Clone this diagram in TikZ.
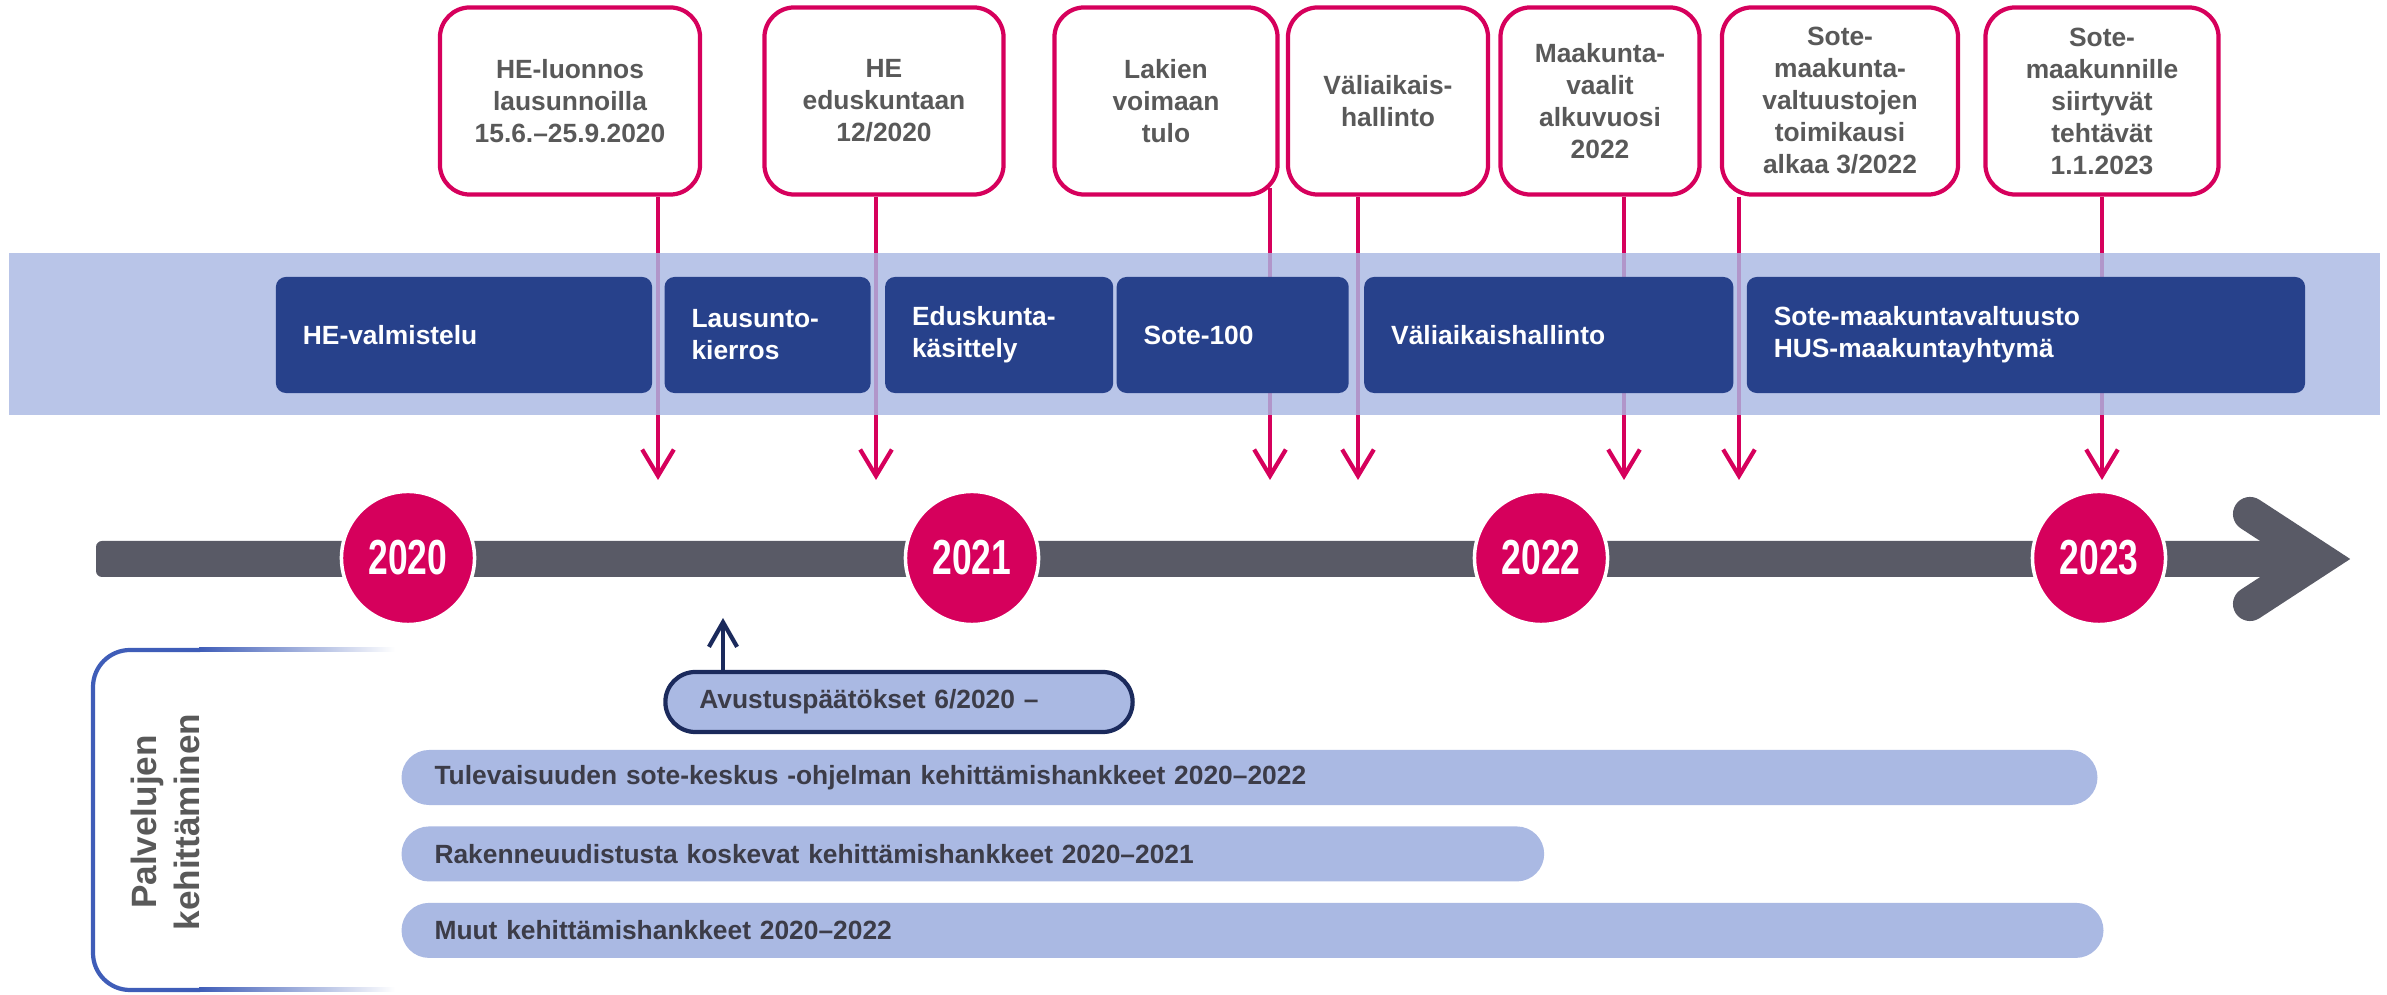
\documentclass[tikz,border=0pt]{standalone}
\usepackage{fontspec}
\setmainfont{Liberation Sans}
\newfontfamily\yearfont{Liberation Sans}[FakeStretch=0.72]
\usetikzlibrary{positioning,arrows.meta}

\definecolor{sotepink}{HTML}{D6005C}
\definecolor{phaseblue}{HTML}{27418B}
\definecolor{bandblue}{HTML}{AAB8E3}
\definecolor{pillblue}{HTML}{AAB9E3}
\definecolor{axisgray}{HTML}{595A66}
\definecolor{textgray}{HTML}{595959}
\definecolor{pilltext}{HTML}{3C3C48}
\definecolor{bracketblue}{HTML}{3F5DB8}
\definecolor{navyline}{HTML}{1B2A5C}

\begin{document}
\begin{tikzpicture}[x=0.01cm, y=-0.01cm,
    every node/.style={font=\fontsize{7.5pt}{9.1pt}\selectfont\bfseries},
    callout/.style={rectangle, draw=sotepink, line width=1.2pt, rounded corners=0.3cm, fill=white, text=textgray, align=center, minimum height=1.87cm, inner sep=0pt},
    eventarrow/.style={draw=sotepink, line width=1.2pt, -{Straight Barb[length=7.5pt,width=9pt]}},
    phase/.style={rectangle, fill=phaseblue, rounded corners=0.1cm, text=white, align=left, minimum height=1.16cm, inner xsep=0.27cm, inner ysep=0pt},
    year/.style={circle, fill=sotepink, draw=white, line width=1pt, minimum size=1.33cm, inner sep=0pt, text=white, font=\yearfont\fontsize{14pt}{16pt}\selectfont\bfseries},
    grantbox/.style={rectangle, fill=pillblue, draw=navyline, line width=1.2pt, rounded corners=0.3cm, text=pilltext, align=left, minimum height=0.6cm, inner xsep=0.34cm, inner ysep=0pt},
    pill/.style={rectangle, fill=pillblue, rounded corners=0.275cm, text=pilltext, align=left, minimum height=0.55cm, inner xsep=0.33cm, inner ysep=0pt},
    sidelabel/.style={rotate=90, align=center, text=textgray, font=\fontsize{10pt}{12.2pt}\selectfont\bfseries}
  ]
  \useasboundingbox (0,0) rectangle (2387,995);

  % events above the band
  \node[callout, minimum width=2.60cm] (luonnos) at (570,101) {HE-luonnos\\lausunnoilla\\15.6.–25.9.2020};
  \node[callout, minimum width=2.39cm] (eduskuntaan) at (884,101) {HE\\eduskuntaan\\12/2020};
  \node[callout, minimum width=2.23cm] (voimaantulo) at (1166,101) {Lakien\\voimaan\\tulo};
  \node[callout, minimum width=2.00cm] (valihallinto) at (1388,101) {Väliaikais-\\hallinto};
  \node[callout, minimum width=1.99cm] (vaalit) at (1600,101) {Maakunta-\\vaalit\\alkuvuosi\\2022};
  \node[callout, minimum width=2.36cm] (toimikausi) at (1840,101) {Sote-\\maakunta-\\valtuustojen\\toimikausi\\alkaa 3/2022};
  \node[callout, minimum width=2.33cm] (siirto) at (2102,101) {Sote-\\maakunnille\\siirtyvät\\tehtävät\\1.1.2023};

  \coordinate (tip-luonnos) at (658,480);
  \coordinate (tip-eduskuntaan) at (876,480);
  \coordinate (tip-voimaantulo) at (1270,480);
  \coordinate (tip-valihallinto) at (1358,480);
  \coordinate (tip-vaalit) at (1624,480);
  \coordinate (tip-toimikausi) at (1739,480);
  \coordinate (tip-siirto) at (2102,480);

  \draw[eventarrow] (luonnos.south -| tip-luonnos) -- (tip-luonnos);
  \draw[eventarrow] (eduskuntaan.south -| tip-eduskuntaan) -- (tip-eduskuntaan);
  \draw[eventarrow] ([yshift=0.09cm]voimaantulo.south -| tip-voimaantulo) -- (tip-voimaantulo);
  \draw[eventarrow] (valihallinto.south -| tip-valihallinto) -- (tip-valihallinto);
  \draw[eventarrow] (vaalit.south -| tip-vaalit) -- (tip-vaalit);
  \draw[eventarrow] (toimikausi.south -| tip-toimikausi) -- (tip-toimikausi);
  \draw[eventarrow] (siirto.south -| tip-siirto) -- (tip-siirto);

  % band with phases
  \fill[bandblue, fill opacity=0.82] (9,253) rectangle (2380,415);
  \node[phase, text width=3.22cm] (valmistelu) at (464,335) {HE-valmistelu};
  \node[phase, text width=1.52cm, right=0.11cm of valmistelu] (lausunto) {Lausunto-\\kierros};
  \node[phase, text width=1.74cm, right=0.13cm of lausunto] (kasittely) {Eduskunta-\\käsittely};
  \node[phase, text width=1.78cm, right=0.02cm of kasittely] (sote100) {Sote-100};
  \node[phase, text width=3.15cm, right=0.14cm of sote100] (valiaikainen) {Väliaikaishallinto};
  \node[phase, text width=5.04cm, right=0.12cm of valiaikainen] (valtuusto) {Sote-maakuntavaltuusto\\HUS-maakuntayhtymä};

  % time axis
  \fill[axisgray, rounded corners=0.06cm] (96,541) rectangle (2300,577);
  \draw[axisgray, line width=9.7pt, line cap=round, line join=miter] (2250,514) -- (2319,559) -- (2250,604);

  \node[year] (y2020) at (408,558) {2020};
  \node[year] (y2021) at (972,558) {2021};
  \node[year] (y2022) at (1541,558) {2022};
  \node[year] (y2023) at (2099,558) {2023};

  % development projects
  \node[grantbox, text width=3.99cm] (avustus) at (899,702) {Avustuspäätökset 6/2020 –};
  \coordinate (avtip) at (723,618);
  \draw[navyline, line width=1.2pt, -{Straight Barb[length=7pt,width=8pt]}] (avustus.north -| avtip) -- (avtip);

  \node[pill, text width=16.29cm] (tulevaisuus) at (1249.5,777.5) {Tulevaisuuden sote-keskus -ohjelman kehittämishankkeet 2020–2022};
  \node[pill, text width=10.76cm, below=0.2cm of tulevaisuus.south west, anchor=north west] (rakenne) {Rakenneuudistusta koskevat kehittämishankkeet 2020–2021};
  \node[pill, text width=16.35cm, below=0.2cm of rakenne.south west, anchor=north west] (muut) {Muut kehittämishankkeet 2020–2022};

  \draw[bracketblue, line width=1.2pt, rounded corners=0.37cm] (200,650) -- (93,650) -- (93,990) -- (200,990);
  \shade[left color=bracketblue, right color=white] (199,648) rectangle (395,652);
  \shade[left color=bracketblue, right color=white] (199,988) rectangle (395,992);
  \node[sidelabel] (palvelut) at (165,822) {Palvelujen\\kehittäminen};
\end{tikzpicture}
\end{document}
